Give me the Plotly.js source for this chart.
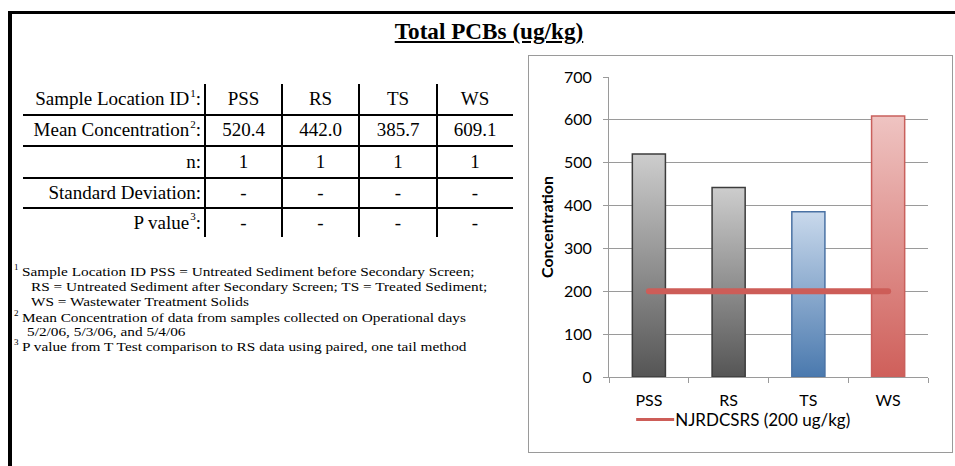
<!DOCTYPE html>
<html><head><meta charset="utf-8">
<script src="https://cdn.plot.ly/plotly-3.0.1.min.js"></script>
<style>
body{margin:0;background:#fff}
#wrap{position:relative;width:955px;height:466px;overflow:hidden;background:#fff;font-family:"Liberation Serif","Times New Roman",serif;color:#000}
.abs{position:absolute}
.cell{position:absolute;display:flex;align-items:center;white-space:nowrap;font-size:19px}
.note{position:absolute;white-space:nowrap;font-size:15.3px;line-height:15px;height:15px;transform:scaleY(0.86);transform-origin:50% 50%}
.mark{position:absolute;white-space:nowrap;font-size:9px;line-height:9px;height:9px}
.sup{display:inline-block;font-size:11px;line-height:11px;transform:translateY(-6px);margin-left:1px}
</style></head><body>
<div id="wrap">
 <div class="abs" style="left:8px;top:11px;width:947px;height:3px;background:#000"></div>
 <div class="abs" style="left:8px;top:11px;width:4px;height:455px;background:#000"></div>
 <div id="title" class="abs" style="left:339px;top:20px;width:300px;text-align:center;font-size:23.2px;line-height:23px;font-weight:bold;"><span style="text-decoration:underline">Total PCBs (ug/kg)</span></div>
 <div id="table"></div>
 <div id="notes"></div>
 <div class="abs" style="left:528px;top:55px;width:423px;height:396px;border:1px solid #9a9a9a"></div>
 <div id="chart" class="abs" style="left:0;top:0;width:955px;height:466px"></div>
</div>
<script>
// ---- data ----
const categories = ['PSS', 'RS', 'TS', 'WS'];
const meanConcentration = [520.4, 442.0, 385.7, 609.1];
const nSamples = ['1', '1', '1', '1'];
const stdDeviation = ['-', '-', '-', '-'];
const pValue = ['-', '-', '-', '-'];
const guidelineValues = [200, 200, 200, 200];
const guidelineName = 'NJRDCSRS (200 ug/kg)';
const rowLabels = ['Sample Location ID', 'Mean Concentration', 'n', 'Standard Deviation', 'P value'];
const rowNoteMarks = ['1', '2', '', '', '3'];
const yTickValues = [0, 100, 200, 300, 400, 500, 600, 700];
const chartTitle = 'Total PCBs (ug/kg)';
const yAxisTitle = 'Concentration';
const footnoteMarks = ['1', '2', '3'];
const footnoteLines = [
  ['Sample Location ID PSS = Untreated Sediment before Secondary Screen;',
   'RS = Untreated Sediment after Secondary Screen; TS = Treated Sediment;',
   'WS = Wastewater Treatment Solids'],
  ['Mean Concentration of data from samples collected on Operational days',
   '5/2/06, 5/3/06, and 5/4/06'],
  ['P value from T Test comparison to RS data using paired, one tail method']
];

// ---- styles ----
const barTop = ['#cdcdcd', '#cdcdcd', '#c9d9ec', '#efc4c2'];
const barBottom = ['#555555', '#555555', '#4a79ae', '#cf5f5a'];
const barEdge = ['#3c3c3c', '#3c3c3c', '#4a72a4', '#c9605c'];
const guideColor = '#cd5d58';

// ---- table ----
const tbl = document.getElementById('table');
const rowEdges = [84, 114.5, 146, 177.5, 208, 237];
const colEdges = [23, 205, 282, 359, 437, 513];
const rowsData = [
  categories,
  meanConcentration.map(v => v.toFixed(1)),
  nSamples, stdDeviation, pValue
];
let html = '';
for (let r = 0; r < 5; r++) {
  const top = rowEdges[r], h = rowEdges[r + 1] - rowEdges[r];
  const lab = rowLabels[r] + (rowNoteMarks[r] ? '<span class="sup">' + rowNoteMarks[r] + '</span>' : '') + ':';
  html += `<div class="cell" style="left:${colEdges[0]}px;top:${top}px;width:${colEdges[1]-colEdges[0]-4}px;height:${h}px;justify-content:flex-end">${lab}</div>`;
  for (let c = 0; c < 4; c++) {
    html += `<div class="cell" style="left:${colEdges[c+1]}px;top:${top}px;width:${colEdges[c+2]-colEdges[c+1]}px;height:${h}px;justify-content:center">${rowsData[r][c]}</div>`;
  }
}
for (let r = 1; r < 5; r++) {
  html += `<div class="abs" style="left:${colEdges[0]}px;top:${rowEdges[r]-1}px;width:${colEdges[5]-colEdges[0]}px;height:2px;background:#000"></div>`;
}
for (let c = 1; c < 5; c++) {
  html += `<div class="abs" style="left:${colEdges[c]-1}px;top:${rowEdges[0]}px;width:2px;height:${rowEdges[5]-rowEdges[0]}px;background:#000"></div>`;
}
tbl.innerHTML = html;

// ---- footnotes ----
const noteCenters = [[271, 286, 301], [317, 331.5], [346]];
const noteIndent = [31, 27];
let nh = '';
footnoteLines.forEach((lines, i) => {
  lines.forEach((t, j) => {
    const top = noteCenters[i][j] - 7.5;
    if (j === 0) {
      nh += `<div class="mark" style="left:14px;top:${top - 1}px">${footnoteMarks[i]}</div>`;
      nh += `<div class="note" style="left:22px;top:${top}px">${t}</div>`;
    } else {
      nh += `<div class="note" style="left:${noteIndent[i]}px;top:${top}px">${t}</div>`;
    }
  });
});
document.getElementById('notes').innerHTML = nh;
document.getElementById('title').firstChild.textContent = chartTitle;

// ---- chart ----
const font = 'Lato, "Open Sans", sans-serif';
const traces = [
  {
    type: 'bar', x: categories, y: meanConcentration, showlegend: false, hoverinfo: 'skip',
    marker: { color: barBottom, line: { color: barEdge, width: 1.5 } }
  },
  {
    type: 'scatter', mode: 'lines', x: categories, y: guidelineValues, name: guidelineName,
    line: { color: guideColor, width: 6 }, hoverinfo: 'skip'
  }
];
const layout = {
  width: 955, height: 466,
  margin: { l: 609, r: 27, t: 77, b: 89 },
  paper_bgcolor: 'rgba(0,0,0,0)', plot_bgcolor: 'rgba(0,0,0,0)',
  font: { family: font, size: 16, color: '#000' },
  bargap: 0.585,
  xaxis: {
    type: 'category', showline: true, linecolor: '#9a9a9a', linewidth: 1,
    ticks: 'outside', tickson: 'boundaries', ticklen: 5, tickcolor: '#9a9a9a',
    showgrid: false, zeroline: false, automargin: false,
    tickfont: { family: font, size: 16, color: '#000' }, ticklabelstandoff: 9
  },
  yaxis: {
    range: [0, 700], tickvals: yTickValues, showline: true, linecolor: '#9a9a9a', linewidth: 1,
    ticks: 'outside', ticklen: 5, tickcolor: '#9a9a9a',
    showgrid: true, gridcolor: '#9a9a9a', gridwidth: 1, zeroline: false, automargin: false,
    tickfont: { family: font, size: 16, color: '#000' }, ticklabelstandoff: 8,
    title: { text: yAxisTitle, font: { family: font, size: 16, color: '#000', weight: 'bold' }, standoff: 6 }
  },
  showlegend: true,
  legend: {
    orientation: 'h', x: 0.082, xanchor: 'left', y: -0.083, yanchor: 'top',
    font: { family: font, size: 17, color: '#000' }, bgcolor: 'rgba(0,0,0,0)'
  }
};
const gd = document.getElementById('chart');
Plotly.newPlot(gd, traces, layout, { displayModeBar: false, staticPlot: true }).then(() => {
  const svg = gd.querySelector('svg.main-svg');
  const NS = 'http://www.w3.org/2000/svg';
  let defs = svg.querySelector('defs');
  if (!defs) { defs = document.createElementNS(NS, 'defs'); svg.insertBefore(defs, svg.firstChild); }
  categories.forEach((c, i) => {
    const g = document.createElementNS(NS, 'linearGradient');
    g.setAttribute('id', 'bargrad' + i);
    g.setAttribute('x1', '0'); g.setAttribute('y1', '0'); g.setAttribute('x2', '0'); g.setAttribute('y2', '1');
    [[0, barTop[i]], [1, barBottom[i]]].forEach(([o, col]) => {
      const s = document.createElementNS(NS, 'stop');
      s.setAttribute('offset', o); s.setAttribute('stop-color', col);
      g.appendChild(s);
    });
    defs.appendChild(g);
  });
  gd.querySelectorAll('.barlayer .point path').forEach((p, i) => {
    p.style.fill = 'url(#bargrad' + i + ')';
  });
  gd.querySelectorAll('.scatterlayer .js-line').forEach(p => { p.style.strokeLinecap = 'round'; });
  gd.querySelectorAll('.legend .legendlines path').forEach(p => {
    p.setAttribute('d', 'M1,0h38'); p.style.strokeWidth = '3px';
  });
});
</script>
</body></html>
